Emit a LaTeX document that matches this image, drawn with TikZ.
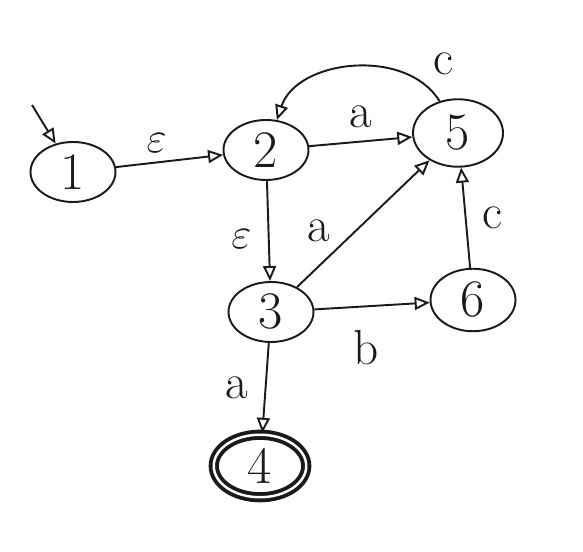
\documentclass[tikz,border=0pt]{standalone}
\usetikzlibrary{arrows.meta, positioning, shapes.geometric}
\definecolor{cink}{HTML}{1A1A1A}
\tikzset{
  every picture/.style={line width=1.1pt, color=cink},
  st/.style={ellipse, draw=cink, minimum width=1.7cm, minimum height=1.2cm, inner sep=0pt, font=\fontsize{30}{32}\selectfont},
  accept/.style={st, double, double distance=1.4pt, line width=2.2pt, minimum width=1.85cm, minimum height=1.25cm},
  arrow/.style={-{Triangle[open, length=3mm, width=2.6mm]}, draw=cink, line width=1.1pt},
  lbl/.style={font=\fontsize{28}{30}\selectfont, text=cink},
}

\begin{document}
\begin{tikzpicture}
  \useasboundingbox (0,0) rectangle (11.66,11.04);
  % states, placed at coordinates
  \node[st] (s1) at (1.46,7.60) {1};
  \node[st] (s2) at (5.32,8.04) {2};
  \node[st, minimum width=1.8cm, minimum height=1.35cm] (s5) at (9.16,8.38) {5};
  \node[st] (s3) at (5.42,4.80) {3};
  \node[st, minimum height=1.25cm] (s6) at (9.46,5.04) {6};
  \node[accept] (s4) at (5.20,1.72) {4};
  \coordinate (start) at (0.64,8.94);
  % transitions
  \draw[arrow] (start) -- (s1);
  \draw[arrow] (s1) -- node[lbl, above=2pt, pos=0.38] {$\varepsilon$} (s2);
  \draw[arrow] (s2) -- node[lbl, above=4pt] {a} (s5);
  \draw[arrow] (s5) to[bend right=65] node[lbl, pos=0.12, above right=2pt] {c} (s2);
  \draw[arrow] (s2) -- node[lbl, left=6pt, pos=0.58] {$\varepsilon$} (s3);
  \draw[arrow] (s3) -- node[lbl, above left=0pt, pos=0.3] {a} (s5);
  \draw[arrow] (s3) -- node[lbl, below=10pt, pos=0.45] {b} (s6);
  \draw[arrow] (s6) -- node[lbl, right=6pt] {c} (s5);
  \draw[arrow] (s3) -- node[lbl, left=6pt] {a} (s4);
\end{tikzpicture}
\end{document}
